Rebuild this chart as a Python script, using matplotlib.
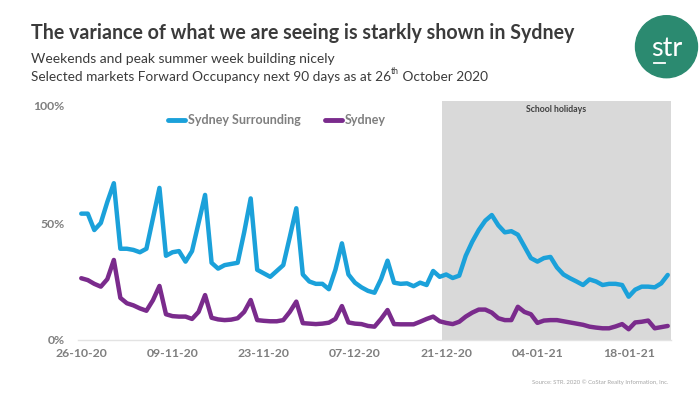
import matplotlib
matplotlib.use("Agg")
import matplotlib.pyplot as plt
import matplotlib.patches as mpatches
import matplotlib.transforms as mtrans
from matplotlib.lines import Line2D
import numpy as np
import pandas as pd

# ---------------- data ----------------
dates = pd.date_range("2020-10-26", periods=91, freq="D")

sydney_surrounding = [
    54, 54, 47, 50, 59, 67, 39, 39, 38.5, 37.5,
    39, 52, 65, 36, 37.5, 38, 33.5, 38, 50, 62,
    33, 30.5, 32, 32.5, 33, 46, 60.5, 30, 28.5, 27,
    29.5, 32, 44, 56.3, 28, 25, 24, 24, 21.7, 30,
    41.3, 28, 24.5, 22.5, 21, 20.2, 26, 33.9, 24.5, 24,
    24.2, 23, 24.5, 23.5, 29.5, 27, 28, 26.5, 27.5, 36,
    42, 47, 51, 53.4, 49, 46, 46.5, 45, 40, 35,
    33.5, 35, 35.5, 31, 28, 26.4, 25, 23.5, 25.9, 25,
    23.5, 24, 24, 23.5, 18.5, 21.5, 22.8, 22.8, 22.5, 24.2,
    27.8,
]

sydney = [
    26.4, 25.6, 24, 22.8, 26, 34.2, 18, 15.7, 14.8, 13.5,
    12.5, 17, 23.1, 11, 10.2, 10, 10, 9, 12, 19.2,
    9.5, 8.8, 8.5, 8.7, 9.3, 12, 17.1, 8.5, 8.2, 8,
    8, 8.5, 12, 16.4, 7.2, 7, 6.8, 7, 7.4, 9,
    14.5, 7.5, 7, 6.8, 6, 5.7, 9, 12.8, 6.8, 6.7,
    6.7, 6.7, 7.8, 9, 10, 8, 7.3, 6.8, 7.8, 10,
    11.7, 13, 13, 11.7, 9.3, 8.5, 8.5, 14.2, 12, 11,
    7.3, 8.3, 8.5, 8.5, 8, 7.5, 7, 6.5, 5.7, 5.3,
    5, 5, 5.8, 6.8, 4.6, 7.5, 7.8, 8.3, 5, 5.5,
    6,
]

series_names = ["Sydney Surrounding", "Sydney"]
tick_dates = dates[::14]
tick_labels = [d.strftime("%d-%m-%y") for d in tick_dates]
ytick_values = [0, 50, 100]
ytick_labels = ["0%", "50%", "100%"]
holiday_first_day = pd.Timestamp("2020-12-20")

title = "The variance of what we are seeing is starkly shown in Sydney"
subtitle1 = "Weekends and peak summer week building nicely"
subtitle2_a = "Selected markets Forward Occupancy next 90 days as at 26"
subtitle2_sup = "th"
subtitle2_b = " October 2020"
source = "Source: STR. 2020 \u00a9 CoStar Realty Information, Inc."

# ---------------- style ----------------
FONT = "Lato"
plt.rcParams["font.family"] = [FONT, "DejaVu Sans"]
BLUE = "#1ba1da"
PURPLE = "#7a2b8c"
GREY_TXT = "#7f7f7f"
SHADE = "#d9d9d9"

W, H = 700, 398
fig = plt.figure(figsize=(W / 100, H / 100), dpi=100)
fig.patch.set_facecolor("white")

def fx(px):
    return px / W

def fy(py):
    return 1 - py / H

# axes: x 78..671 px, y 340 (0%) .. 101 (102%)
ax_left, ax_right = 78, 671
ax_bottom, ax_top = 340, 340 - 102 * 2.34
ax = fig.add_axes([fx(ax_left), fy(ax_bottom), fx(ax_right - ax_left), (ax_bottom - ax_top) / H])

x = np.arange(len(dates))
ax.set_xlim(-0.5, len(dates) - 0.5)
ax.set_ylim(0, 102)

hol_pos = dates.get_loc(holiday_first_day) + 0.3
ax.axvspan(hol_pos, len(dates) - 0.5, color=SHADE, lw=0, zorder=0)
ax.text((hol_pos + len(dates) - 0.5) / 2, 98.5, "School holidays", ha="center", va="center",
        fontsize=6.3, fontweight="bold", color="#404040")

ax.plot(x, sydney_surrounding, color=BLUE, lw=3.2, solid_joinstyle="round",
        solid_capstyle="round", zorder=3, label=series_names[0])
ax.plot(x, sydney, color=PURPLE, lw=3.2, solid_joinstyle="round",
        solid_capstyle="round", zorder=3, label=series_names[1])

for s in ["top", "right", "left"]:
    ax.spines[s].set_visible(False)
ax.spines["bottom"].set_color("#e3e3e3")
ax.spines["bottom"].set_linewidth(1.0)
ax.spines["bottom"].set_zorder(1)

tick_pos = [dates.get_loc(d) for d in tick_dates]
ax.set_xticks(tick_pos)
ax.set_xticklabels(tick_labels, fontsize=8.8, fontweight="bold", color=GREY_TXT)
ax.set_yticks(ytick_values)
ax.set_yticklabels(ytick_labels, fontsize=8.8, fontweight="bold", color=GREY_TXT)
ax.tick_params(axis="x", length=0, pad=6)
ax.tick_params(axis="y", length=0, pad=9.5)
ax.patch.set_alpha(0)

# legend
handles = [Line2D([], [], color=BLUE, lw=3.5, solid_capstyle="round"),
           Line2D([], [], color=PURPLE, lw=3.5, solid_capstyle="round")]
leg = fig.legend(handles, series_names, loc="center", bbox_to_anchor=(fx(277), fy(120)),
                 ncol=2, frameon=False, fontsize=9, handlelength=1.3, handletextpad=0.25,
                 columnspacing=2.0, borderpad=0, borderaxespad=0)
for t in leg.get_texts():
    t.set_color(GREY_TXT)
    t.set_fontweight("bold")

# titles
fig.text(fx(31), fy(33), title, fontsize=14.1, fontweight="bold", color="#3b3b3b",
         ha="left", va="center")
fig.text(fx(31), fy(59), subtitle1, fontsize=10, color="#3b3b3b", ha="left", va="center")
t2 = fig.text(fx(31), fy(77), subtitle2_a, fontsize=9.85, color="#3b3b3b", ha="left",
              va="center")
fig.canvas.draw()
r = fig.canvas.get_renderer()
bb = t2.get_window_extent(r)
sup = fig.text(bb.x1 / W, fy(77) + 5 / H, subtitle2_sup, fontsize=6.3, color="#3b3b3b",
               ha="left", va="center")
fig.canvas.draw()
bb2 = sup.get_window_extent(r)
fig.text(bb2.x1 / W, fy(77), subtitle2_b, fontsize=9.85, color="#3b3b3b", ha="left",
         va="center")

# source
fig.text(fx(668), fy(382), source, fontsize=4.3, color="#a6a6a6", ha="right", va="center")

# logo
ident = mtrans.IdentityTransform()
circ = mpatches.Circle((666.5, H - 46.7), 31, transform=ident, color="#2b8a70", zorder=5)
fig.add_artist(circ)
fig.text(fx(667), fy(56.5), "str", fontsize=19.5, color="white", ha="center", va="baseline",
         zorder=6)
fig.add_artist(Line2D([653.5, 665], [H - 62.7, H - 62.7], transform=ident, color="white",
                      lw=1.3, zorder=6))

fig.savefig("out.png", dpi=100, facecolor="white")
